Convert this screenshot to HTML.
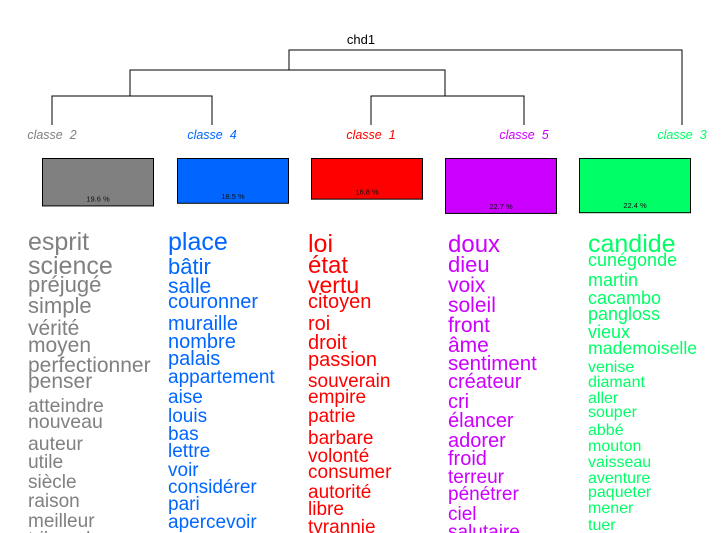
<!DOCTYPE html>
<html><head><meta charset="utf-8"><style>
body{margin:0;background:#fff}
svg{display:block;font-family:"Liberation Sans",Arial,sans-serif}
.lbl{white-space:pre}
</style></head><body>
<svg width="726" height="533" viewBox="0 0 726 533">
<script>
const classLabels=["classe  2","classe  4","classe  1","classe  5","classe  3"];
const classColors=["#808080","#0066ff","#ff0000","#cc00ff","#00ff66"];
const classPct=[19.6,18.5,16.8,22.7,22.4];
const words2=["esprit","science","préjugé","simple","vérité","moyen","perfectionner","penser","atteindre","nouveau","auteur","utile","siècle","raison","meilleur","tribunal"];
const base2=[250,274,292,313,335,352,372,388,412,428,450,468,488,507,527,545];
const size2=[25,25,22,22,21,21,21,21,19.5,19.5,19.4,19.2,19,19,19,19];
const words4=["place","bâtir","salle","couronner","muraille","nombre","palais","appartement","aise","louis","bas","lettre","voir","considérer","pari","apercevoir"];
const base4=[250,274,293,308,330,348,365,383,403,422,440,457,476,493,510,528];
const size4=[25,22,21,20,20,20,20,19,19,19,19,19,19,19,19,19];
const words1=["loi","état","vertu","citoyen","roi","droit","passion","souverain","empire","patrie","barbare","volonté","consumer","autorité","libre","tyrannie"];
const base1=[252,273,293,308,330,349,366,387,403,422,444,462,478,498,515,533];
const size1=[25,24,23,20,20,20,20,19,19,19,19,19,19,19,19,19];
const words5=["doux","dieu","voix","soleil","front","âme","sentiment","créateur","cri","élancer","adorer","froid","terreur","pénétrer","ciel","salutaire"];
const base5=[252,272,292,312,332,352,370,388,408,427,447,465,483,500,520,538];
const size5=[24,22,21,21,21,21,20.5,20,20,20,20,20,19,19,19,19];
const words3=["candide","cunégonde","martin","cacambo","pangloss","vieux","mademoiselle","venise","diamant","aller","souper","abbé","mouton","vaisseau","aventure","paqueter","mener","tuer"];
const base3=[252,266,286,304,320,338,354,372,387,403,417,435,451,467,483,497,513,530];
const size3=[25,18,18,18,18,18,17.7,16,16,16,16,16,16,16,16,16,16,16];
</script>
<g id="tree" stroke="#000" stroke-width="1" fill="none">
<path d="M289 70 V50 H682 V125"/>
<path d="M130 96 V70 H445 V96"/>
<path d="M52 125 V96 H212 V125"/>
<path d="M371 125 V96 H524 V125"/>
</g>
<text x="361" y="44" font-size="13" text-anchor="middle" fill="#000">chd1</text>
<g id="content"></g>
<script>
const NS="http://www.w3.org/2000/svg";
const g=document.getElementById('content');
const cx=[52,212,371,524,682];
const bx=[42,177,311,445,579];
const colX=[28,168,308,448,588];
function mk(tag,attrs){const e=document.createElementNS(NS,tag);for(const k in attrs)e.setAttribute(k,attrs[k]);g.appendChild(e);return e;}
const k=2.42;
for(let i=0;i<5;i++){
  const t=mk('text',{x:cx[i],y:139,'font-size':12.5,'font-style':'italic','text-anchor':'middle',fill:classColors[i],'class':'lbl'});
  t.textContent=classLabels[i];
  
  
  const h=classPct[i]*k;
  const r=mk('rect',{x:bx[i]+0.5,y:158.5,width:111,height:h,fill:classColors[i],stroke:'#000','stroke-width':1});
  
  
  const p=mk('text',{x:bx[i]+56,y:158+h-4,'font-size':7.5,'text-anchor':'middle',fill:'#111'});
  p.textContent=classPct[i].toFixed(1)+' %';
  
  
}
const lists=[[words2,base2,size2],[words4,base4,size4],[words1,base1,size1],[words5,base5,size5],[words3,base3,size3]];
lists.forEach((L,i)=>{
  L[0].forEach((w,j)=>{
    const t=mk('text',{x:colX[i],y:L[1][j],'font-size':L[2][j],fill:classColors[i]});
    t.textContent=w;
    
    
  });
});
</script>
</svg>
</body></html>
